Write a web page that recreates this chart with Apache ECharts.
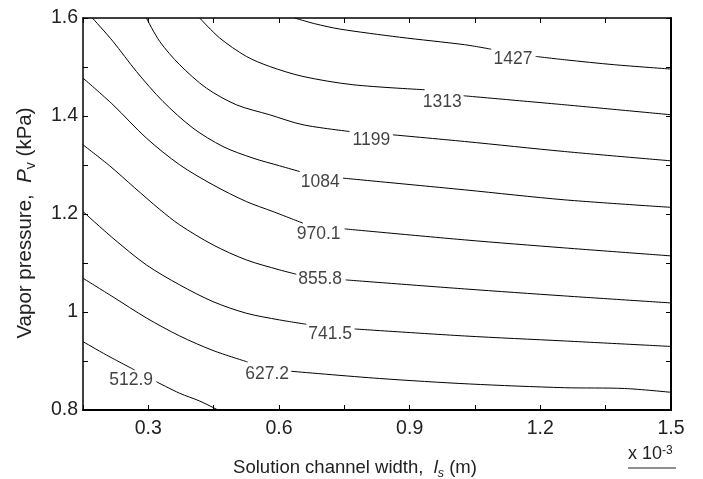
<!DOCTYPE html>
<html>
<head>
<meta charset="utf-8">
<script src="https://cdn.jsdelivr.net/npm/echarts@6/dist/echarts.min.js"></script>
<style>
html,body{margin:0;padding:0;background:#fff;}
#chart{width:703px;height:479px;}
</style>
</head>
<body>
<div id="chart"></div>
<script>
// ---- data (x in 10^-3 m, y in kPa) ----
const levels = ['512.9', '627.2', '741.5', '855.8', '970.1', '1084', '1199', '1313', '1427'];

const c5129 = [
  [[0.150, 0.9395], [0.2037, 0.9123], [0.2687, 0.8816]],
  [[0.3185, 0.8577], [0.3720, 0.8341], [0.4179, 0.8183], [0.4599, 0.8000]]
];
const c6272 = [
  [[0.150, 1.0689], [0.2189, 1.0308], [0.2955, 0.9879], [0.3720, 0.9511], [0.4484, 0.9215], [0.5280, 0.8980]],
  [[0.6283, 0.8790], [0.8310, 0.8643], [1.0376, 0.8531], [1.2556, 0.8455], [1.3934, 0.8439], [1.5, 0.8361]]
];
const c7415 = [
  [[0.150, 1.2050], [0.2189, 1.1506], [0.2955, 1.0961], [0.3720, 1.0553], [0.4484, 1.0212], [0.5250, 0.9975], [0.6015, 0.9838], [0.6628, 0.9750]],
  [[0.7736, 0.9654], [1.0261, 0.9511], [1.2556, 0.9409], [1.5, 0.9297]]
];
const c8558 = [
  [[0.150, 1.3412], [0.2113, 1.2983], [0.2687, 1.2534], [0.3261, 1.2094], [0.3720, 1.1778], [0.4484, 1.1370], [0.5250, 1.1063], [0.6015, 1.0859], [0.6398, 1.0771]],
  [[0.7530, 1.0655], [1.0261, 1.0471], [1.2556, 1.0328], [1.5, 1.0185]]
];
const c9701 = [
  [[0.150, 1.4774], [0.2189, 1.4229], [0.2955, 1.3549], [0.3720, 1.3004], [0.4484, 1.2595], [0.5250, 1.2254], [0.5861, 1.2050], [0.6550, 1.1813]],
  [[0.7507, 1.1696], [1.0261, 1.1472], [1.2556, 1.1308], [1.5, 1.1145]]
];
const c1084 = [
  [[0.1716, 1.6], [0.2189, 1.5522], [0.2726, 1.4909], [0.3336, 1.4297], [0.4025, 1.3753], [0.4713, 1.3377], [0.5402, 1.3141], [0.6015, 1.2983], [0.6474, 1.2867]],
  [[0.7468, 1.2732], [1.0261, 1.2493], [1.2556, 1.2289], [1.5, 1.2136]]
];
const c1199 = [
  [[0.2955, 1.6], [0.3261, 1.5522], [0.3720, 1.5046], [0.4332, 1.4570], [0.5021, 1.4229], [0.5785, 1.4025], [0.6550, 1.3821], [0.7621, 1.3684]],
  [[0.8615, 1.3616], [1.0261, 1.3480], [1.2556, 1.3275], [1.5, 1.3085]]
];
const c1313 = [
  [[0.4179, 1.6], [0.4638, 1.5592], [0.5250, 1.5216], [0.5785, 1.5011], [0.6550, 1.4807], [0.7697, 1.4638], [0.9343, 1.4536]],
  [[1.0238, 1.4413], [1.2556, 1.4229], [1.5, 1.4025]]
];
const c1427 = [
  [[0.6359, 1.6], [0.6818, 1.5884], [0.7392, 1.5775], [0.8769, 1.5608], [1.0261, 1.5455], [1.0874, 1.5363]],
  [[1.1891, 1.5216], [1.2556, 1.5148], [1.3704, 1.5046], [1.5, 1.4958]]
];
const contours = [c5129, c6272, c7415, c8558, c9701, c1084, c1199, c1313, c1427];

const labelPts = [[0.2606, 0.8602], [0.5728, 0.8725], [0.7174, 0.9542], [0.6944, 1.0665], [0.6910, 1.1594],
                  [0.6949, 1.2646], [0.8120, 1.3504], [0.9749, 1.4290], [1.1374, 1.5169]];

const xMin = 0.15, xMax = 1.5, xStep = 0.15;
const yMin = 0.8, yMax = 1.6, yStep = 0.1;

// ---- chart ----
const FONT = '"Liberation Sans", Arial, Helvetica, sans-serif';
const chart = echarts.init(document.getElementById('chart'), null, {renderer: 'canvas'});

const series = [];
contours.forEach(function (c) {
  c.forEach(function (seg) {
    series.push({
      type: 'line', data: seg, showSymbol: false, symbol: 'none',
      smooth: 0.3, silent: true, animation: false,
      lineStyle: {color: '#000', width: 1},
      xAxisIndex: 0, yAxisIndex: 0
    });
  });
});
series.push({
  type: 'scatter', data: labelPts, symbolSize: 0, silent: true, animation: false,
  label: {
    show: true, position: 'inside', color: '#111', fontSize: 17.5, fontFamily: FONT,
    formatter: function (p) { return levels[p.dataIndex]; }
  }
});

const axisCommonX = {
  type: 'value', min: xMin, max: xMax, interval: xStep,
  splitLine: {show: false},
  axisTick: {show: true, inside: true, length: 5, lineStyle: {color: '#000', width: 1}},
};
const axisCommonY = {
  type: 'value', min: yMin, max: yMax, interval: yStep,
  splitLine: {show: false},
  axisTick: {show: true, inside: true, length: 5, lineStyle: {color: '#000', width: 1}},
};

const option = {
  backgroundColor: '#fff',
  animation: false,
  grid: {left: 83, right: 32, top: 18, bottom: 69, containLabel: false},
  xAxis: [
    Object.assign({}, axisCommonX, {
      position: 'bottom',
      axisLine: {show: true, onZero: false, lineStyle: {color: '#000', width: 2}},
      axisLabel: {
        show: true, margin: 9, color: '#222', fontSize: 19.5, fontFamily: FONT,
        formatter: function (v) {
          return (Math.round(v * 100) % 30 === 0) ? v.toFixed(1) : '';
        }
      }
    }),
    Object.assign({}, axisCommonX, {
      position: 'top',
      axisLine: {show: true, onZero: false, lineStyle: {color: '#000', width: 1.5}},
      axisLabel: {show: false}
    })
  ],
  yAxis: [
    Object.assign({}, axisCommonY, {
      position: 'left',
      axisLine: {show: true, onZero: false, lineStyle: {color: '#000', width: 1.5}},
      axisLabel: {
        show: true, margin: 5, color: '#222', fontSize: 19.5, fontFamily: FONT,
        formatter: function (v) {
          return (Math.round(v * 10) % 2 === 0) ? String(+v.toFixed(1)) : '';
        }
      }
    }),
    Object.assign({}, axisCommonY, {
      position: 'right',
      axisLine: {show: true, onZero: false, lineStyle: {color: '#000', width: 2}},
      axisLabel: {show: false}
    })
  ],
  series: series,
  graphic: [
    {
      type: 'text', x: 25, y: 223, rotation: Math.PI / 2, silent: true,
      style: {
        text: 'Vapor pressure,  {i|P}{sub|v} (kPa)',
        fill: '#222', fontSize: 20.5, fontFamily: FONT, align: 'center', verticalAlign: 'middle',
        rich: {
          i: {fontStyle: 'italic', fontSize: 20.5, fontFamily: FONT, fill: '#222', lineHeight: 26, verticalAlign: 'middle'},
          sub: {fontSize: 14, fontFamily: FONT, fill: '#222', lineHeight: 13, verticalAlign: 'bottom'}
        }
      }
    },
    {
      type: 'text', x: 355, y: 468, silent: true,
      style: {
        text: 'Solution channel width,  {i|l}{sub|s}{n| (m)}',
        fill: '#222', fontSize: 18.5, fontFamily: FONT, align: 'center', verticalAlign: 'middle',
        rich: {
          i: {fontStyle: 'italic', fontSize: 18.5, fontFamily: FONT, fill: '#222', lineHeight: 24, verticalAlign: 'middle'},
          sub: {fontStyle: 'italic', fontSize: 12.5, fontFamily: FONT, fill: '#222', lineHeight: 12, verticalAlign: 'bottom'},
          n: {fontSize: 18.5, fontFamily: FONT, fill: '#222', lineHeight: 24, verticalAlign: 'middle'}
        }
      }
    },
    {
      type: 'text', x: 628, y: 454, silent: true,
      style: {
        text: 'x 10{sup|-3}',
        fill: '#222', fontSize: 18, fontFamily: FONT, align: 'left', verticalAlign: 'middle',
        rich: {
          sup: {fontSize: 12, fontFamily: FONT, fill: '#222', lineHeight: 12, verticalAlign: 'top'}
        }
      }
    },
    {
      type: 'line', silent: true,
      shape: {x1: 628, y1: 468, x2: 676, y2: 468},
      style: {stroke: '#222', lineWidth: 1}
    }
  ]
};
chart.setOption(option);
</script>
</body>
</html>
